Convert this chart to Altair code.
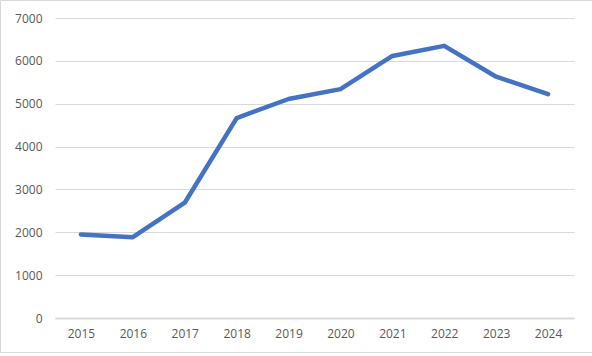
import altair as alt
import pandas as pd

years = ["2015", "2016", "2017", "2018", "2019", "2020", "2021", "2022", "2023", "2024"]
values = [1950, 1885, 2690, 4665, 5110, 5340, 6115, 6350, 5630, 5225]

df = pd.DataFrame({"year": years, "value": values})

W, H = 519, 300

line = alt.Chart(df).mark_line(
    color="#4472C4", strokeWidth=4.5, strokeJoin="round", strokeCap="round"
).encode(
    x=alt.X("year:O", sort=years, title=None,
            scale=alt.Scale(type="point", padding=0.5),
            axis=alt.Axis(labelAngle=0, ticks=False, domain=True, domainColor="#d9d9d9",
                          domainWidth=2, labelPadding=10, grid=False)),
    y=alt.Y("value:Q", title=None,
            scale=alt.Scale(domain=[0, 7000], nice=False),
            axis=alt.Axis(values=list(range(0, 7001, 1000)), format="d", ticks=False,
                          domain=False, labelPadding=13, gridColor="#d9d9d9", gridWidth=1)),
)

border = alt.Chart(df).mark_rect(
    fill=None, stroke="#d9d9d9", strokeWidth=1, clip=False
).encode(
    x=alt.value(-54.5), x2=alt.value(W + 25), y=alt.value(-17.5), y2=alt.value(H + 34.5)
).transform_filter("datum.year == '2015'")

chart = alt.layer(border, line).properties(
    width=W, height=H,
    autosize=alt.AutoSizeParams(type="none"),
    padding={"left": 55, "top": 18, "right": 18, "bottom": 38},
    background="white",
).configure_view(stroke=None).configure_axis(
    labelFont="Open Sans", labelFontSize=12, labelColor="#595959"
)

chart.save("out.html", embed_options={"renderer": "svg", "actions": False})
